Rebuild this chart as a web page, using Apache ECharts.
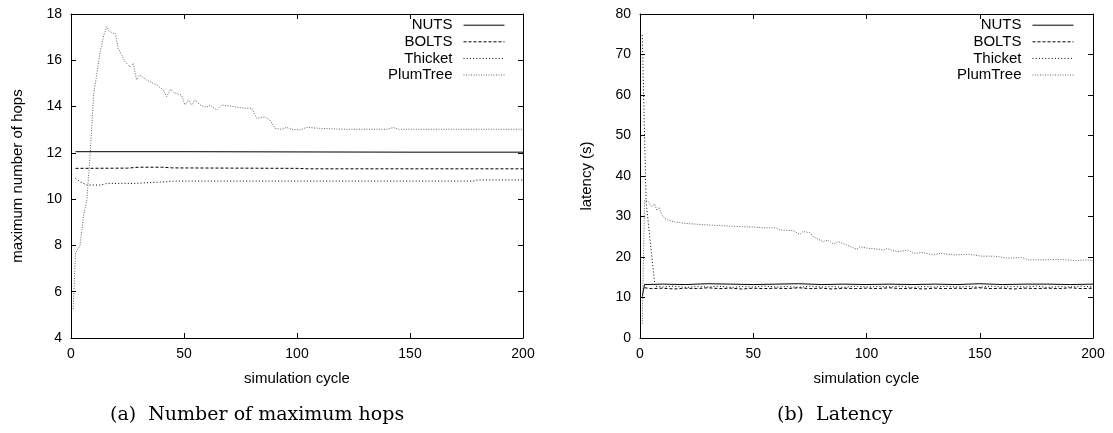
<!DOCTYPE html>
<html>
<head>
<meta charset="utf-8">
<script src="https://cdn.jsdelivr.net/npm/echarts@6/dist/echarts.min.js"></script>
<style>
html,body{margin:0;padding:0;background:#fff;}
#chart{width:1113px;height:433px;}
</style>
</head>
<body>
<div id="chart"></div>
<script>
// ---- data (a) maximum number of hops ----
const seriesNames = ['NUTS', 'BOLTS', 'Thicket', 'PlumTree'];
const xTicks = [0, 50, 100, 150, 200];
const hopsTicks = [4, 6, 8, 10, 12, 14, 16, 18];
const latTicks = [0, 10, 20, 30, 40, 50, 60, 70, 80];

const nutsHopsX = [2, 50, 100, 150, 200];
const nutsHopsY = [12.05, 12.05, 12.04, 12.03, 12.03];
const boltsHopsX = [2, 25, 30, 40, 45, 100, 105, 200];
const boltsHopsY = [11.33, 11.34, 11.38, 11.38, 11.35, 11.33, 11.31, 11.31];
const thicketHopsX = [2, 4, 7, 13, 16, 28, 42, 45, 100, 178, 180, 200];
const thicketHopsY = [10.9, 10.75, 10.61, 10.61, 10.68, 10.68, 10.75, 10.78, 10.78, 10.78, 10.83, 10.83];
const plumHopsX = [1, 2, 4, 5.5, 7, 8.4, 10, 12.8, 14.3, 15.8, 17, 18.7, 19.6, 20.9, 21.6, 23.9, 26.1, 27.6, 29, 30.5, 33.4, 37.9, 40.8, 42.3, 44.1, 45.6, 48.9, 50.4, 51.9, 53.4, 55, 57, 60, 61.5, 64.5, 66.7, 71.8, 76.3, 80, 82.2, 85.8, 88, 90.3, 93.2, 95.4, 98.3, 101.3, 104.3, 110, 120, 130, 140, 142.6, 145, 160, 180, 200];
const plumHopsY = [5.25, 7.67, 8.0, 9.24, 9.96, 11.83, 14.5, 16.3, 17.0, 17.45, 17.25, 17.17, 17.17, 16.5, 16.4, 15.94, 15.72, 15.87, 15.15, 15.36, 15.15, 14.93, 14.72, 14.43, 14.75, 14.6, 14.5, 14.07, 14.29, 14.07, 14.29, 14.07, 13.97, 14.07, 13.85, 14.07, 14.0, 13.93, 13.93, 13.49, 13.56, 13.42, 13.06, 13.02, 13.1, 13.0, 13.0, 13.1, 13.06, 13.02, 13.02, 13.02, 13.1, 13.02, 13.02, 13.02, 13.02];

// ---- data (b) latency ----
const nutsLatX = [1, 2, 10, 20, 30, 40, 50, 60, 70, 80, 90, 100, 110, 120, 130, 140, 150, 160, 170, 180, 190, 200];
const nutsLatY = [10.2, 13.2, 13.3, 13.2, 13.4, 13.3, 13.2, 13.3, 13.4, 13.2, 13.3, 13.2, 13.3, 13.2, 13.3, 13.2, 13.4, 13.2, 13.3, 13.3, 13.2, 13.3];
const boltsLatX = [2, 5, 10, 15, 20, 25, 30, 35, 40, 45, 50, 55, 60, 65, 70, 75, 80, 85, 90, 95, 100, 105, 110, 115, 120, 125, 130, 135, 140, 145, 150, 155, 160, 165, 170, 175, 180, 185, 190, 195, 200];
const boltsLatY = [12.4, 12.2, 12.3, 12.1, 12.3, 12.2, 12.4, 12.2, 12.3, 12.1, 12.3, 12.2, 12.3, 12.2, 12.4, 12.2, 12.3, 12.1, 12.3, 12.2, 12.3, 12.2, 12.4, 12.2, 12.3, 12.1, 12.3, 12.2, 12.3, 12.2, 12.4, 12.2, 12.3, 12.1, 12.3, 12.2, 12.3, 12.2, 12.4, 12.2, 12.3];
const thicketLatX = [1, 2.7, 6.6, 10, 15, 20, 25, 30, 35, 40, 45, 50, 55, 60, 65, 70, 75, 80, 85, 90, 95, 100, 105, 110, 115, 120, 125, 130, 135, 140, 145, 150, 155, 160, 165, 170, 175, 180, 185, 190, 195, 200];
const thicketLatY = [74.8, 33.5, 12.8, 12.6, 12.8, 12.5, 12.7, 12.6, 12.8, 12.5, 12.7, 12.6, 12.8, 12.6, 12.7, 12.5, 12.8, 12.6, 12.7, 12.5, 12.8, 12.6, 12.7, 12.6, 12.8, 12.5, 12.7, 12.6, 12.8, 12.6, 12.7, 12.5, 12.8, 12.6, 12.7, 12.6, 12.8, 12.5, 12.7, 12.6, 12.8, 12.6];
const plumLatX = [1, 2, 3.5, 5, 6.5, 7.5, 8.5, 9.5, 11, 13, 16, 20, 25, 30, 35, 40, 45, 50, 55, 60, 62, 67.6, 70.6, 72, 75, 76.5, 80.9, 83, 85.3, 87.5, 91.2, 95.6, 97, 101.5, 106, 107.4, 109, 113.3, 118.5, 120.7, 125, 129.5, 132.5, 139, 145, 150.9, 156.7, 162.6, 168.5, 171.4, 178.8, 186, 192, 198, 200];
const plumLatY = [3.5, 34, 33.8, 32.5, 33, 31.5, 32.2, 30.5, 29.5, 29.0, 28.6, 28.3, 28.1, 27.9, 27.8, 27.6, 27.5, 27.4, 27.2, 27.2, 26.7, 26.5, 25.6, 26.3, 26.0, 25.0, 23.8, 24.2, 23.2, 23.8, 23.0, 21.9, 22.5, 22.1, 21.9, 21.7, 22.1, 21.3, 21.7, 20.9, 21.1, 20.5, 20.9, 20.5, 20.7, 20.2, 20.2, 19.7, 19.9, 19.3, 19.3, 19.4, 19.1, 19.3, 19.1];

const captionA = '(a)  Number of maximum hops';
const captionB = '(b)  Latency';

function zip(xs, ys) { return xs.map((x, i) => [x, ys[i]]); }

const FONT = 'Liberation Sans';
const styles = {
  NUTS: { color: '#000', width: 1, type: 'solid' },
  BOLTS: { color: '#000', width: 1, type: [3, 2] },
  Thicket: { color: '#000', width: 1, type: [1, 2.2] },
  PlumTree: { color: '#666', width: 1, type: [1, 1.5] }
};

function mkSeries(name, data, gi) {
  return {
    type: 'line', name: name, data: data, symbol: 'none', showSymbol: false, symbolSize: 0, animation: false,
    xAxisIndex: gi * 2, yAxisIndex: gi * 2,
    color: styles[name].color,
    itemStyle: { color: styles[name].color, opacity: 0 },
    lineStyle: styles[name]
  };
}

function xAx(gi, pos, main) {
  return {
    type: 'value', gridIndex: gi, position: pos, min: xTicks[0], max: xTicks[xTicks.length - 1], interval: 50,
    axisLine: { show: true, onZero: false, lineStyle: { color: '#000', width: 1 } },
    axisTick: { show: true, inside: true, length: 5, lineStyle: { color: '#000' } },
    axisLabel: { show: main, color: '#000', fontFamily: FONT, fontSize: 14, margin: 9 },
    splitLine: { show: false },
    name: main ? 'simulation cycle' : '', nameLocation: 'middle', nameGap: 33,
    nameTextStyle: { color: '#000', fontFamily: FONT, fontSize: 15 }
  };
}
function yAx(gi, pos, main, ticks, name) {
  return {
    type: 'value', gridIndex: gi, position: pos, min: ticks[0], max: ticks[ticks.length - 1], interval: ticks[1] - ticks[0],
    axisLine: { show: true, onZero: false, lineStyle: { color: '#000', width: 1 } },
    axisTick: { show: true, inside: true, length: 5, lineStyle: { color: '#000' } },
    axisLabel: { show: main, color: '#000', fontFamily: FONT, fontSize: 14, margin: 9 },
    splitLine: { show: false },
    name: main ? name : '', nameLocation: 'middle', nameGap: 46,
    nameTextStyle: { color: '#000', fontFamily: FONT, fontSize: 15 }
  };
}

function mkLegend(right) {
  return {
    orient: 'vertical', right: right, top: 12.7, align: 'right',
    itemWidth: 41, itemHeight: 10, itemGap: 1.6,
    data: seriesNames,
    selectedMode: false,
    itemStyle: { opacity: 0, borderWidth: 0 },
    lineStyle: { width: 1 },
    textStyle: { color: '#000', fontFamily: FONT, fontSize: 15, padding: [0, 6, 0, 0] }
  };
}

const chart = echarts.init(document.getElementById('chart'), null, { renderer: 'canvas' });
chart.setOption({
  animation: false,
  backgroundColor: '#fff',
  grid: [
    { left: 71, top: 14, width: 452, height: 324 },
    { left: 640, top: 14, width: 453, height: 324 }
  ],
  xAxis: [xAx(0, 'bottom', true), xAx(0, 'top', false), xAx(1, 'bottom', true), xAx(1, 'top', false)],
  yAxis: [yAx(0, 'left', true, hopsTicks, 'maximum number of hops'), yAx(0, 'right', false, hopsTicks, ''),
          yAx(1, 'left', true, latTicks, 'latency (s)'), yAx(1, 'right', false, latTicks, '')],
  legend: [mkLegend(603), mkLegend(34)],
  series: [
    mkSeries('NUTS', zip(nutsHopsX, nutsHopsY), 0),
    mkSeries('BOLTS', zip(boltsHopsX, boltsHopsY), 0),
    mkSeries('Thicket', zip(thicketHopsX, thicketHopsY), 0),
    mkSeries('PlumTree', zip(plumHopsX, plumHopsY), 0),
    mkSeries('NUTS', zip(nutsLatX, nutsLatY), 1),
    mkSeries('BOLTS', zip(boltsLatX, boltsLatY), 1),
    mkSeries('Thicket', zip(thicketLatX, thicketLatY), 1),
    mkSeries('PlumTree', zip(plumLatX, plumLatY), 1)
  ],
  graphic: [
    { type: 'text', left: 110, top: 406, style: { text: captionA, font: '19px "DejaVu Serif"', fill: '#000' } },
    { type: 'text', left: 777, top: 406, style: { text: captionB, font: '19px "DejaVu Serif"', fill: '#000' } }
  ]
});
</script>
</body>
</html>
